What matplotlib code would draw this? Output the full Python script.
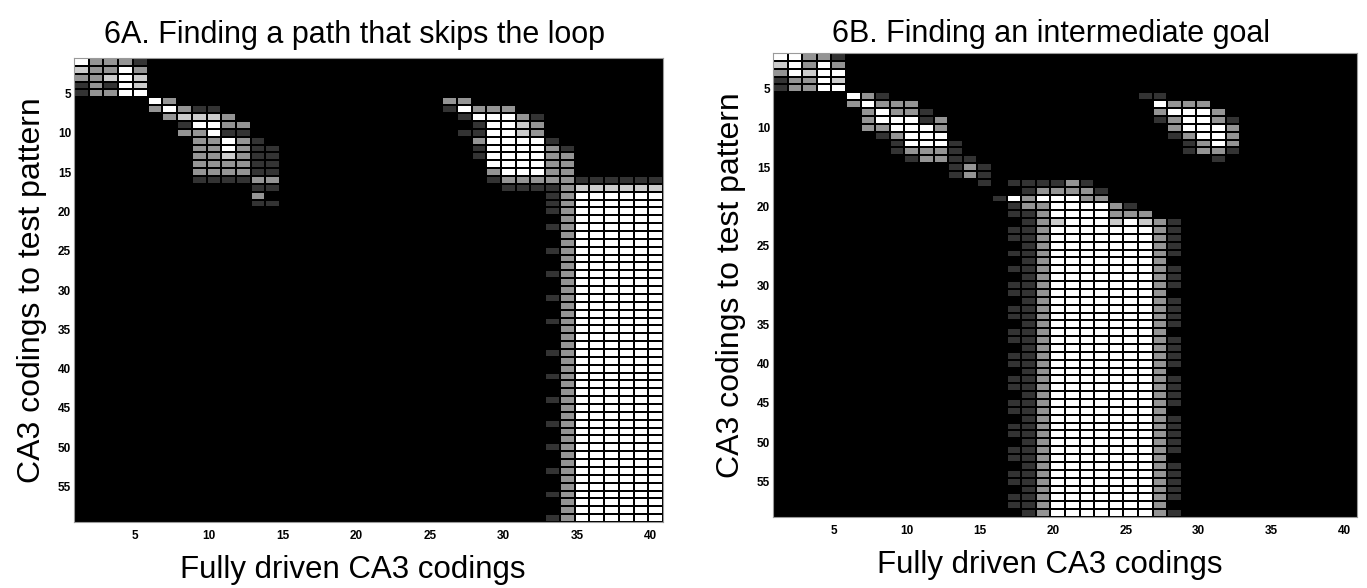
import numpy as np
import matplotlib
matplotlib.use("Agg")
import matplotlib.pyplot as plt
from matplotlib.transforms import ScaledTranslation

plt.rcParams['font.family'] = ['Liberation Sans', 'DejaVu Sans']

n_rows, n_cols = 59, 40
x_ticks = [5, 10, 15, 20, 25, 30, 35, 40]
y_ticks = [5, 10, 15, 20, 25, 30, 35, 40, 45, 50, 55]
titles = ["6A. Finding a path that skips the loop", "6B. Finding an intermediate goal"]
x_label = "Fully driven CA3 codings"
y_label = "CA3 codings to test pattern"

# intensity codes: '.' black, '1' faint, '2' gray, '3' light, '4' white
level_values = {'.': 0.0, '1': 0.2, '2': 0.58, '3': 0.8, '4': 1.0}

# row -> list of (first column, codes)
cells_A = {
    1: [(1, "42221")],
    2: [(1, "32242")],
    3: [(1, "22343")],
    4: [(1, "12143")],
    5: [(1, "12244")],
    6: [(6, "42"), (26, "22")],
    7: [(6, "24211"), (26, "14222")],
    8: [(7, "23332"), (27, "144421")],
    9: [(8, "14422"), (28, "14432")],
    10: [(8, "22411"), (27, "114432")],
    11: [(9, "22421"), (28, "244441")],
    12: [(9, "224211"), (28, "1444421")],
    13: [(9, "223211"), (28, "1444422")],
    14: [(9, "222211"), (29, "444422")],
    15: [(9, "222211"), (29, "244422")],
    16: [(9, "111122"), (29, "122222111111")],
    17: [(13, "11"), (30, "11112333333")],
    18: [(13, "2"), (33, "12444444")],
    19: [(13, "11"), (33, "12444444")],
    20: [(33, "12444444")],
    21: [(33, ".2444444")],
    22: [(33, "12444444")],
    23: [(33, ".2444444")],
    24: [(33, ".2444444")],
    25: [(33, "12444444")],
    26: [(33, ".2444444")],
    27: [(33, ".2444444")],
    28: [(33, "12444444")],
    29: [(33, ".2444444")],
    30: [(33, ".2444444")],
    31: [(33, "12444444")],
    32: [(33, ".2444444")],
    33: [(33, ".2444444")],
    34: [(33, "12444444")],
    35: [(33, ".2444444")],
    36: [(33, ".2444444")],
    37: [(33, ".2444444")],
    38: [(33, "12444444")],
    39: [(33, ".2444444")],
    40: [(33, ".2444444")],
    41: [(33, "12444444")],
    42: [(33, ".2444444")],
    43: [(33, ".2444444")],
    44: [(33, "12444444")],
    45: [(33, ".2444444")],
    46: [(33, ".2444444")],
    47: [(33, "12444444")],
    48: [(33, ".2444444")],
    49: [(33, ".2444444")],
    50: [(33, "12444444")],
    51: [(33, ".2444444")],
    52: [(33, ".2444444")],
    53: [(33, "12444444")],
    54: [(33, ".2444444")],
    55: [(33, ".2444444")],
    56: [(33, "12444444")],
    57: [(33, ".2444444")],
    58: [(33, ".2444444")],
    59: [(33, "12444444")],
}

cells_B = {
    1: [(1, "44221")],
    2: [(1, "34242")],
    3: [(1, "24344")],
    4: [(1, "12243")],
    5: [(1, "12244")],
    6: [(6, "421"), (26, "11")],
    7: [(6, "24222"), (27, "4222")],
    8: [(7, "24221"), (27, "24442")],
    9: [(7, "244412"), (27, "124421")],
    10: [(7, "224442"), (28, "24442")],
    11: [(8, "12444"), (28, "12442")],
    12: [(9, "14441"), (29, "1242")],
    13: [(9, "12221"), (29, "1221")],
    14: [(10, "12211"), (31, "1")],
    15: [(13, "121")],
    16: [(13, "121")],
    17: [(15, "1.111121")],
    18: [(18, "122221")],
    19: [(16, "14244422")],
    20: [(17, "122444421")],
    21: [(17, "1124444222")],
    22: [(18, "12344434321")],
    23: [(17, "112444444421")],
    24: [(17, "112444444421")],
    25: [(17, ".12444444421")],
    26: [(17, "112444444421")],
    27: [(17, ".1244444442.")],
    28: [(17, "112444444421")],
    29: [(17, ".12444444421")],
    30: [(17, "112444444421")],
    31: [(17, "11244444442.")],
    32: [(17, ".12444444421")],
    33: [(17, "112444444421")],
    34: [(17, "112444444421")],
    35: [(17, ".12444444421")],
    36: [(17, "11244444442.")],
    37: [(17, "112444444421")],
    38: [(17, ".12444444421")],
    39: [(17, "112444444421")],
    40: [(17, "112444444421")],
    41: [(17, ".1244444442.")],
    42: [(17, "112444444421")],
    43: [(17, "112444444421")],
    44: [(17, ".12444444421")],
    45: [(17, "112444444421")],
    46: [(17, "11244444442.")],
    47: [(17, ".12444444421")],
    48: [(17, "112444444421")],
    49: [(17, "112444444421")],
    50: [(17, ".12444444421")],
    51: [(17, "112444444421")],
    52: [(17, "11244444442.")],
    53: [(17, ".12444444421")],
    54: [(17, "112444444421")],
    55: [(17, "112444444421")],
    56: [(17, ".12444444421")],
    57: [(17, "112444444421")],
    58: [(17, "11244444442.")],
    59: [(17, ".12444444421")],
}


def build(cells):
    Z = np.zeros((n_rows, n_cols))
    for r, segs in cells.items():
        for c0, codes in segs:
            for k, ch in enumerate(codes):
                Z[r - 1, c0 - 1 + k] = level_values[ch]
    return Z


W, H = 1367, 588
fig = plt.figure(figsize=(W / 100, H / 100), dpi=100)
fig.patch.set_facecolor('white')

# axes rectangles in pixels: left, top, right, bottom
rects = [(74, 58, 663, 522), (773, 53, 1357, 517)]
title_pads = [11, 8]
panels = [build(cells_A), build(cells_B)]

xe = np.arange(n_cols + 1) + 0.5
ye = np.arange(n_rows + 1) + 0.5

for (l, t, r, b), Z, title, tpad in zip(rects, panels, titles, title_pads):
    ax = fig.add_axes([l / W, (H - b) / H, (r - l) / W, (b - t) / H])
    ax.set_facecolor('black')
    ax.pcolormesh(xe, ye, Z, cmap='gray', vmin=0, vmax=1,
                  edgecolors='black', linewidth=1.1, shading='flat')
    ax.set_xlim(0.5, n_cols + 0.5)
    ax.set_ylim(n_rows + 0.5, 0.5)
    ax.set_xticks(x_ticks)
    ax.set_yticks(y_ticks)
    ax.tick_params(length=0, labelsize=8.5, pad=2)
    ax.tick_params(axis='x', pad=6)
    for lab in ax.get_xticklabels() + ax.get_yticklabels():
        lab.set_fontweight('bold')
    for lab in ax.get_xticklabels():
        lab.set_transform(lab.get_transform() + ScaledTranslation(-5 / 100, 0, fig.dpi_scale_trans))
    for sp in ax.spines.values():
        sp.set_color('#9a9a9a')
        sp.set_linewidth(0.8)
    ax.set_title(title, fontsize=22, pad=tpad, x=0.476)
    ax.set_xlabel(x_label, fontsize=22.5)
    ax.xaxis.set_label_coords(0.474, -0.072)
    ax.set_ylabel(y_label, fontsize=23)
    ax.yaxis.set_label_coords(-27 / (r - l), 0.5)

fig.savefig("out.png", dpi=100)
